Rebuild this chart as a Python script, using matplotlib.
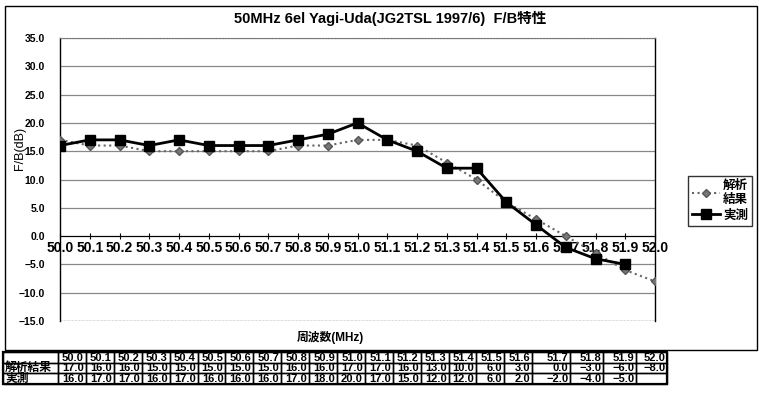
import numpy as np
import matplotlib.pyplot as plt
from matplotlib.patches import Rectangle
from matplotlib.lines import Line2D

FREQS = ["50.0", "50.1", "50.2", "50.3", "50.4", "50.5", "50.6", "50.7", "50.8", "50.9", "51.0",
         "51.1", "51.2", "51.3", "51.4", "51.5", "51.6", "51.7", "51.8", "51.9", "52.0"]
ANALYSIS = [17.0, 16.0, 16.0, 15.0, 15.0, 15.0, 15.0, 15.0, 16.0, 16.0, 17.0,
            17.0, 16.0, 13.0, 10.0, 6.0, 3.0, 0.0, -3.0, -6.0, -8.0]
MEASURED = [16.0, 17.0, 17.0, 16.0, 17.0, 16.0, 16.0, 16.0, 17.0, 18.0, 20.0,
            17.0, 15.0, 12.0, 12.0, 6.0, 2.0, -2.0, -4.0, -5.0, np.nan]
NAMES = ["解析結果", "実測"]
LEGEND_NAMES = ["解析\n結果", "実測"]
TITLE = "50MHz 6el Yagi-Uda(JG2TSL 1997/6)  F/B特性"

FONT = ["Liberation Sans", "Noto Sans CJK JP", "DejaVu Sans"]
plt.rcParams["font.family"] = FONT
plt.rcParams["font.weight"] = "bold"
plt.rcParams["axes.unicode_minus"] = False

W, H = 759, 398
fig = plt.figure(figsize=(W / 100, H / 100), dpi=100)


def fx(px):
    return px / W


def fy(py):
    return 1 - py / H


def fmt(v):
    return "" if np.isnan(v) else f"{v:.1f}".replace("-", "−")


# chart frame
fig.patches.append(Rectangle((fx(5), fy(350)), fx(752), fy(6) - fy(350),
                             transform=fig.transFigure, fill=False, lw=1.0, ec="black"))

ax = fig.add_axes([fx(60), fy(321), fx(655 - 60), fy(38) - fy(321)])
x = np.arange(len(FREQS))
ax.plot(x, ANALYSIS, color="#666666", ls=":", lw=1.5, marker="D", ms=4.5,
        mfc="#777777", mec="#555555", zorder=3)
ax.plot(x, MEASURED, color="black", ls="-", lw=2.0, marker="s", ms=7, zorder=4)

yt = np.arange(-15, 36, 5)
ax.set_xlim(0, len(FREQS) - 1)
ax.set_ylim(-15, 35)
ax.set_yticks(yt)
ax.set_yticklabels([fmt(v) for v in yt], fontsize=7.5)
ax.yaxis.grid(True, color="#888888", lw=0.9)
ax.set_axisbelow(True)
ax.tick_params(axis="y", length=0, pad=11)
ax.set_xticks(x)
ax.set_xticklabels(FREQS, fontsize=7.5)
ax.tick_params(axis="x", direction="inout", length=5, pad=1)
ax.spines["bottom"].set_position(("data", 0))
ax.spines["top"].set_linestyle(":")
ax.spines["top"].set_color("#777777")
ax.spines["right"].set_linewidth(1.0)
ax.spines["left"].set_linewidth(1.0)
ax.set_ylabel("F/B(dB)", fontsize=9, labelpad=0)
ax.yaxis.set_label_coords(-0.057, 0.61)
ax.axhline(-15, color="#777777", ls=":", lw=1.0)

fig.text(fx(390), fy(18), TITLE, ha="center", va="center", fontsize=10.5, fontweight="bold")
fig.text(fx(330), fy(337), "周波数(MHz)", ha="center", va="center", fontsize=8.5, fontweight="bold")

handles = [
    Line2D([], [], color="#666666", ls=":", lw=1.5, marker="D", ms=4.5, mfc="#777777", mec="#555555"),
    Line2D([], [], color="black", ls="-", lw=2.0, marker="s", ms=7),
]
leg = fig.legend(handles, LEGEND_NAMES, loc="upper left", bbox_to_anchor=(fx(682), fy(170)),
                 frameon=True, fancybox=False, edgecolor="black", fontsize=9,
                 handlelength=2.2, borderpad=0.3, labelspacing=0.3, handletextpad=0.3)
leg.get_frame().set_linewidth(1.0)

# data table below the chart
col_w = [55] + [27.9] * 17 + [38, 33, 33, 31]
edges = np.concatenate([[3], 3 + np.cumsum(col_w)])
row_top = [352, 362.5, 373]
row_h = 10.5
tax = fig.add_axes([0, 0, 1, 1])
tax.set_xlim(0, W)
tax.set_ylim(H, 0)
tax.axis("off")
rows = [[""] + FREQS,
        [NAMES[0]] + [fmt(v) for v in ANALYSIS],
        [NAMES[1]] + [fmt(v) for v in MEASURED]]
for r, cells in enumerate(rows):
    y0 = row_top[r]
    for c, txt in enumerate(cells):
        tax.add_patch(Rectangle((edges[c], y0), edges[c + 1] - edges[c], row_h,
                                fill=False, lw=1.0, ec="black"))
        if c == 0:
            tax.text(edges[c] + 2, y0 + row_h / 2 + 0.5, txt, ha="left", va="center", fontsize=8.5)
        else:
            tax.text(edges[c + 1] - 2, y0 + row_h / 2 + 0.5, txt, ha="right", va="center", fontsize=8)
tax.add_patch(Rectangle((edges[0], row_top[0]), edges[-1] - edges[0], row_h * 3,
                        fill=False, lw=1.6, ec="black"))

fig.savefig("out.png", dpi=100)
